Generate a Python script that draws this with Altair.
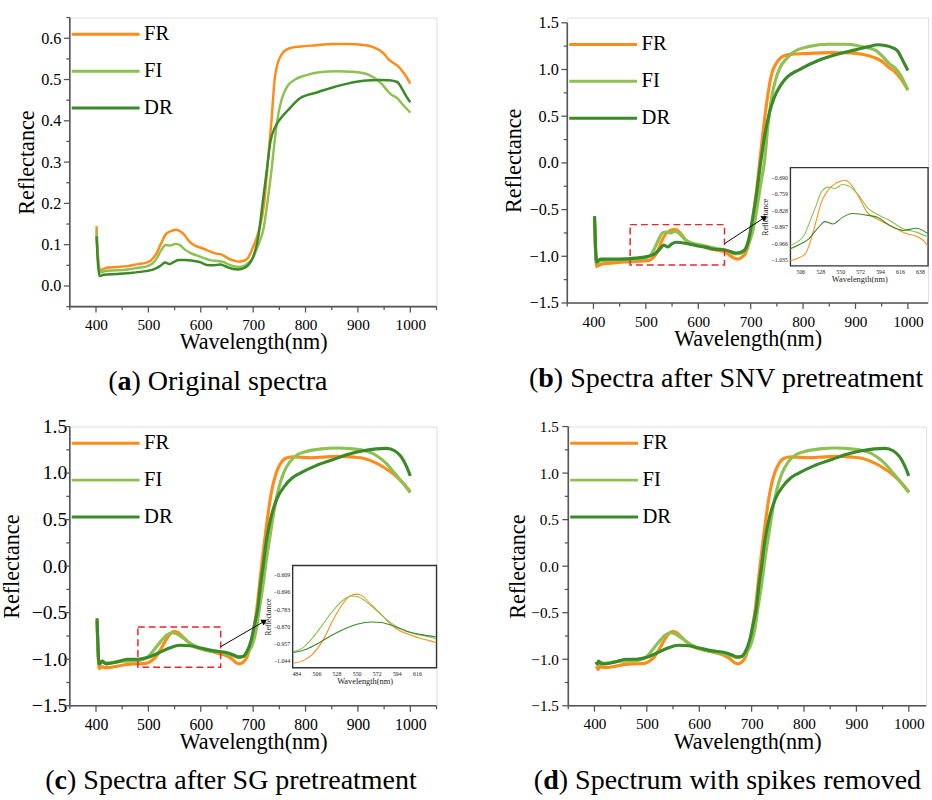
import math
import altair as alt
import pandas as pd

SERIF = "Liberation Serif"
SERIES = ["FR", "FI", "DR"]
COLORS = ["#FF8C1A", "#8DC152", "#3B8A2A"]
AXC = "#555555"

# ---------------- (a) original spectra ----------------
FR_A = [(401,0.145),(404,0.07),(408,0.038),(420,0.044),(440,0.046),(460,0.048),(480,0.053),(495,0.056),(505,0.062),(515,0.078),(525,0.105),(533,0.125),(542,0.132),(552,0.136),(560,0.133),(568,0.125),(578,0.108),(590,0.097),(602,0.092),(615,0.085),(627,0.079),(640,0.076),(652,0.067),(662,0.062),(672,0.059),(682,0.061),(690,0.068),(700,0.095),(710,0.13),(721,0.20),(728,0.30),(735,0.40),(741,0.50),(746,0.535),(751,0.553),(758,0.567),(770,0.576),(790,0.580),(820,0.583),(850,0.586),(880,0.586),(915,0.583),(930,0.578),(940,0.572),(950,0.562),(959,0.548),(968,0.540),(977,0.532),(988,0.515),(1000,0.49)]
FI_A = [(401,0.135),(404,0.06),(408,0.033),(420,0.037),(440,0.038),(460,0.040),(480,0.044),(495,0.047),(505,0.052),(515,0.065),(525,0.088),(533,0.099),(542,0.098),(552,0.102),(560,0.099),(570,0.088),(580,0.080),(592,0.074),(605,0.068),(620,0.062),(635,0.060),(645,0.057),(655,0.051),(665,0.047),(672,0.046),(682,0.048),(690,0.055),(700,0.07),(710,0.10),(720,0.14),(727,0.20),(735,0.28),(741,0.35),(746,0.40),(752,0.44),(758,0.465),(766,0.485),(780,0.50),(800,0.51),(830,0.518),(860,0.52),(890,0.519),(915,0.514),(930,0.505),(945,0.49),(955,0.475),(962,0.465),(975,0.455),(985,0.44),(1000,0.42)]
DR_A = [(401,0.12),(404,0.05),(407,0.024),(415,0.027),(440,0.029),(470,0.032),(495,0.036),(510,0.040),(522,0.048),(532,0.057),(540,0.053),(548,0.058),(558,0.063),(570,0.063),(585,0.061),(600,0.057),(612,0.051),(625,0.050),(637,0.052),(650,0.046),(662,0.041),(672,0.040),(682,0.043),(690,0.050),(700,0.07),(710,0.12),(718,0.20),(726,0.28),(733,0.35),(742,0.385),(752,0.405),(766,0.425),(790,0.455),(820,0.468),(850,0.48),(880,0.49),(910,0.497),(940,0.499),(960,0.498),(975,0.494),(983,0.48),(992,0.46),(1000,0.445)]

# ---------------- (b) SNV ----------------
FR_B = [(402,-0.62),(404,-0.95),(406,-1.11),(412,-1.09),(420,-1.08),(440,-1.07),(460,-1.06),(480,-1.055),(495,-1.05),(505,-1.045),(515,-1.01),(522,-0.95),(530,-0.84),(538,-0.76),(546,-0.725),(553,-0.71),(560,-0.72),(567,-0.76),(575,-0.82),(585,-0.86),(598,-0.88),(612,-0.90),(626,-0.925),(640,-0.94),(650,-0.95),(660,-0.99),(668,-1.02),(675,-1.03),(683,-1.01),(690,-0.97),(697,-0.85),(704,-0.6),(711,-0.3),(717,0.0),(724,0.35),(732,0.7),(740,0.95),(748,1.06),(756,1.12),(766,1.15),(780,1.165),(800,1.17),(850,1.18),(890,1.178),(915,1.16),(935,1.13),(950,1.09),(962,1.03),(972,0.99),(985,0.91),(1000,0.78)]
FI_B = [(402,-0.6),(404,-0.95),(406,-1.08),(412,-1.05),(420,-1.045),(450,-1.04),(480,-1.03),(500,-1.015),(510,-0.98),(518,-0.90),(526,-0.80),(533,-0.745),(540,-0.74),(547,-0.75),(555,-0.735),(561,-0.745),(568,-0.78),(578,-0.835),(592,-0.865),(610,-0.885),(628,-0.91),(645,-0.925),(658,-0.95),(670,-0.975),(680,-0.97),(690,-0.93),(698,-0.84),(706,-0.68),(713,-0.45),(720,-0.2),(726,0.0),(733,0.4),(740,0.7),(748,0.9),(756,1.02),(769,1.12),(780,1.18),(810,1.245),(850,1.27),(880,1.27),(905,1.255),(925,1.23),(940,1.2),(955,1.12),(965,1.06),(975,1.02),(988,0.92),(1000,0.78)]
DR_B = [(402,-0.57),(404,-0.9),(406,-1.06),(410,-1.04),(415,-1.03),(450,-1.03),(480,-1.02),(505,-1.0),(518,-0.97),(527,-0.92),(534,-0.88),(542,-0.9),(550,-0.865),(558,-0.85),(575,-0.86),(595,-0.885),(615,-0.905),(632,-0.925),(650,-0.93),(662,-0.95),(672,-0.965),(682,-0.955),(690,-0.92),(697,-0.8),(705,-0.55),(712,-0.3),(719,0.0),(727,0.3),(735,0.52),(745,0.7),(757,0.83),(770,0.92),(793,1.0),(830,1.1),(870,1.17),(900,1.21),(925,1.245),(942,1.265),(958,1.255),(970,1.235),(980,1.2),(990,1.1),(1000,0.99)]
# inset of (b)
FR_BI = [(495,-1.040),(503,-1.030),(511.7,-1.010),(517,-0.96),(522.5,-0.886),(529.7,-0.789),(537,-0.741),(546,-0.713),(555,-0.702),(562,-0.72),(571,-0.776),(580,-0.838),(591,-0.865),(602,-0.886),(613,-0.907),(623.6,-0.927),(634,-0.937),(641.7,-0.955),(647,-0.98)]
FI_BI = [(495,-0.975),(510,-0.934),(516,-0.88),(522.5,-0.817),(529.7,-0.748),(537,-0.731),(544,-0.737),(552.5,-0.720),(560,-0.727),(571,-0.769),(580,-0.817),(594,-0.851),(605,-0.872),(620,-0.907),(634,-0.920),(647,-0.941)]
DR_BI = [(495,-0.990),(505,-0.972),(515.3,-0.948),(526,-0.900),(533,-0.876),(542,-0.886),(552.5,-0.858),(563.5,-0.842),(576,-0.847),(591,-0.858),(605,-0.893),(620,-0.913),(634,-0.904),(647,-0.927)]

# ---------------- (c) SG ----------------
FR_C = [(402,-0.6),(404,-0.95),(406,-1.10),(409,-1.09),(412,-1.08),(416,-1.09),(422,-1.09),(440,-1.075),(460,-1.055),(480,-1.05),(495,-1.045),(505,-1.02),(515,-0.97),(525,-0.88),(535,-0.78),(543,-0.72),(550,-0.70),(557,-0.715),(566,-0.76),(577,-0.82),(590,-0.87),(605,-0.895),(620,-0.915),(635,-0.94),(648,-0.96),(660,-1.0),(668,-1.04),(673,-1.05),(680,-1.035),(688,-0.98),(695,-0.85),(701,-0.68),(706,-0.5),(716,0.0),(727,0.5),(735,0.8),(744,1.0),(752,1.1),(762,1.16),(775,1.175),(790,1.17),(810,1.165),(840,1.175),(870,1.18),(895,1.17),(910,1.16),(930,1.12),(950,1.06),(970,0.98),(985,0.9),(1000,0.8)]
FI_C = [(402,-0.58),(404,-0.92),(406,-1.06),(409,-1.03),(412,-1.02),(418,-1.04),(430,-1.035),(450,-1.02),(470,-1.02),(485,-1.01),(500,-0.97),(512,-0.89),(525,-0.80),(535,-0.74),(545,-0.715),(551,-0.72),(562,-0.755),(573,-0.80),(588,-0.855),(602,-0.89),(616,-0.91),(630,-0.925),(645,-0.94),(660,-0.96),(672,-0.98),(682,-0.97),(690,-0.93),(700,-0.82),(706,-0.68),(712,-0.45),(719,-0.2),(726,0.1),(733,0.35),(740,0.6),(748,0.82),(758,1.0),(770,1.12),(785,1.2),(800,1.23),(830,1.26),(860,1.27),(890,1.26),(910,1.245),(925,1.22),(940,1.17),(955,1.1),(970,1.0),(985,0.9),(1000,0.79)]
DR_C = [(402,-0.56),(404,-0.9),(406,-1.05),(409,-1.04),(412,-1.02),(416,-1.04),(420,-1.05),(440,-1.03),(460,-1.0),(480,-1.0),(500,-0.98),(520,-0.93),(540,-0.88),(560,-0.85),(580,-0.855),(600,-0.88),(625,-0.91),(650,-0.93),(663,-0.955),(672,-0.975),(680,-0.97),(688,-0.92),(696,-0.8),(703,-0.62),(709,-0.45),(714,-0.2),(719,0.0),(726,0.3),(733,0.5),(745,0.72),(760,0.86),(775,0.95),(790,1.0),(820,1.08),(850,1.14),(880,1.2),(910,1.24),(935,1.26),(955,1.265),(970,1.24),(982,1.18),(992,1.08),(1000,0.97)]
# inset of (c)
FR_CI = [(480.7,-1.057),(491.4,-1.044),(502,-1.011),(512.8,-0.944),(523.5,-0.845),(534,-0.761),(543,-0.715),(550.2,-0.707),(557.3,-0.72),(566,-0.761),(577,-0.811),(587.6,-0.861),(598.3,-0.895),(609,-0.914),(619.6,-0.931),(630.3,-0.944),(637,-0.953)]
FI_CI = [(480.7,-0.999),(491.4,-0.978),(502,-0.928),(512.8,-0.861),(523.5,-0.795),(534,-0.742),(544.7,-0.717),(551.5,-0.72),(562.3,-0.753),(573,-0.795),(587.6,-0.853),(602,-0.891),(616,-0.911),(630.3,-0.924),(637,-0.933)]
DR_CI = [(480.7,-1.003),(495,-0.986),(509.2,-0.953),(523.5,-0.914),(537.8,-0.881),(551.5,-0.858),(566,-0.848),(577,-0.851),(591,-0.870),(605,-0.895),(619.6,-0.911),(637,-0.924)]

# ---------------- (d) spikes removed ----------------
FR_D = [(403,-1.10),(405,-1.09),(407,-1.11),(410,-1.08),(414,-1.085),(420,-1.09),(440,-1.075),(460,-1.055),(480,-1.05),(495,-1.045),(505,-1.02),(515,-0.97),(525,-0.88),(535,-0.78),(543,-0.72),(550,-0.70),(557,-0.715),(566,-0.76),(577,-0.82),(590,-0.87),(605,-0.895),(620,-0.915),(635,-0.935),(648,-0.96),(660,-1.0),(668,-1.04),(673,-1.05),(680,-1.035),(688,-0.98),(695,-0.85),(701,-0.68),(706,-0.5),(716,0.0),(727,0.5),(735,0.8),(744,1.0),(752,1.1),(762,1.16),(775,1.175),(790,1.17),(810,1.165),(840,1.175),(870,1.18),(895,1.17),(910,1.16),(930,1.12),(950,1.06),(970,0.98),(985,0.9),(1000,0.8)]
FI_D = [(403,-1.05),(405,-1.04),(407,-1.06),(410,-1.03),(414,-1.035),(420,-1.045),(430,-1.035),(450,-1.02),(470,-1.02),(485,-1.01),(500,-0.97),(512,-0.89),(525,-0.80),(535,-0.74),(545,-0.715),(551,-0.72),(562,-0.755),(573,-0.80),(588,-0.855),(602,-0.89),(616,-0.91),(630,-0.925),(645,-0.94),(660,-0.96),(672,-0.98),(682,-0.97),(690,-0.93),(700,-0.82),(706,-0.68),(712,-0.45),(719,-0.2),(726,0.1),(733,0.35),(740,0.6),(748,0.82),(758,1.0),(770,1.12),(785,1.2),(800,1.23),(830,1.26),(860,1.27),(890,1.26),(910,1.245),(925,1.22),(940,1.17),(955,1.1),(970,1.0),(985,0.9),(1000,0.79)]
DR_D = [(403,-1.03),(405,-1.05),(408,-1.02),(411,-1.04),(416,-1.05),(420,-1.05),(440,-1.03),(460,-1.0),(480,-1.0),(500,-0.98),(520,-0.93),(540,-0.88),(560,-0.85),(580,-0.855),(600,-0.88),(625,-0.91),(650,-0.93),(663,-0.955),(672,-0.975),(680,-0.97),(688,-0.92),(696,-0.8),(703,-0.62),(709,-0.45),(714,-0.2),(719,0.0),(726,0.3),(733,0.5),(745,0.72),(760,0.86),(775,0.95),(790,1.0),(820,1.08),(850,1.14),(880,1.2),(910,1.24),(935,1.26),(955,1.265),(970,1.24),(982,1.18),(992,1.08),(1000,0.97)]

# zoom boxes [x0, x1, y0, y1] and arrows [(x, y) start, (x, y) end]
BOX_B = [470, 650, -1.093, -0.661]
ARROW_B = [(650, -0.865), (725, -0.59)]
BOX_C = [480, 638, -1.087, -0.653]
ARROW_C = [(638, -0.865), (720, -0.597)]

X_MAJOR = [400, 500, 600, 700, 800, 900, 1000]
X_MINOR = [350, 450, 550, 650, 750, 850, 950, 1050]
YA_MAJOR = [0.0, 0.1, 0.2, 0.3, 0.4, 0.5, 0.6]
YA_MINOR = [-0.05, 0.05, 0.15, 0.25, 0.35, 0.45, 0.55, 0.65]
YS_MAJOR = [-1.5, -1.0, -0.5, 0.0, 0.5, 1.0, 1.5]
YS_MINOR = [-1.25, -0.75, -0.25, 0.25, 0.75, 1.25]

INSET_B_XTICKS = [506, 528, 550, 572, 594, 616, 638]
INSET_B_YTICKS = [-0.690, -0.759, -0.828, -0.897, -0.966, -1.035]
INSET_C_XTICKS = [484, 506, 528, 550, 572, 594, 616]
INSET_C_YTICKS = [-0.609, -0.696, -0.783, -0.870, -0.957, -1.044]

CAPTIONS = {"a": "Original spectra", "b": "Spectra after SNV pretreatment",
            "c": "Spectra after SG pretreatment", "d": "Spectrum with spikes removed"}


def to_df(d):
    rows = []
    for name in SERIES:
        for w, v in d[name]:
            rows.append({"series": name, "wl": w, "val": v})
    return pd.DataFrame(rows)


def color_enc(legend=None):
    kw = {}
    if legend is not None:
        kw["legend"] = legend
    return alt.Color("series:N", scale=alt.Scale(domain=SERIES, range=COLORS), **kw)


def panel(P):
    W, H = P["W"], P["H"]
    xdom, ydom = P["xdom"], P["ydom"]
    yax = P["yaxis_range"]
    xs = alt.Scale(domain=xdom, nice=False, zero=False)
    ys = alt.Scale(domain=ydom, nice=False, zero=False)
    xmaj = [v for v in X_MAJOR if xdom[0] <= v <= xdom[1]]
    xmin = [v for v in X_MINOR if xdom[0] <= v <= xdom[1]]
    xaxis = alt.Axis(orient="bottom", values=xmaj, format="d", title="Wavelength(nm)",
                     labelPadding=P["xlp"], titlePadding=P["xtp"], labelFontSize=P["xfs"], titleFontSize=22.5)
    yaxis = alt.Axis(orient="left", values=P["ymaj"], format=".1f", title="Reflectance",
                     labelPadding=P["ylp"], titlePadding=P["ytp"], labelFontSize=P["yfs"], titleFontSize=22.5)
    legend = alt.Legend(orient="none", legendX=0.5, legendY=P["legY"], title=None, symbolType="stroke",
                        symbolSize=4761, symbolStrokeWidth=3, clipHeight=22, rowPadding=15.5,
                        labelFont=SERIF, labelFontSize=21, labelOffset=3, labelColor="black", padding=0)
    lines = alt.Chart(to_df(P["data"])).mark_line(strokeWidth=P["sw"], interpolate="monotone").encode(
        x=alt.X("wl:Q", scale=xs, axis=xaxis),
        y=alt.Y("val:Q", scale=ys, axis=yaxis),
        color=color_enc(legend),
    )
    # axis lines and ticks drawn through the same scales
    dom_df = pd.DataFrame({"seg": ["x", "x", "y", "y"],
                           "wl": [xdom[0], xdom[1], xdom[0], xdom[0]],
                           "val": [yax[0], yax[0], yax[0], yax[1]]})
    domain = alt.Chart(dom_df).mark_line(color=AXC, strokeWidth=1.6).encode(
        x="wl:Q", y="val:Q", detail="seg:N", order="val:Q")
    xt_maj = alt.Chart(pd.DataFrame({"wl": xmaj})).mark_tick(orient="vertical", size=6, thickness=1.3,
                                                              color=AXC, opacity=1).encode(
        x="wl:Q", y=alt.value(H + 3))
    xt_min = alt.Chart(pd.DataFrame({"wl": xmin})).mark_tick(orient="vertical", size=3.5, thickness=1.3,
                                                              color=AXC, opacity=1).encode(
        x="wl:Q", y=alt.value(H + 1.75))
    yt_maj = alt.Chart(pd.DataFrame({"val": P["ymaj"]})).mark_tick(orient="horizontal", size=6, thickness=1.3,
                                                                   color=AXC, opacity=1).encode(
        y="val:Q", x=alt.value(-3))
    yt_min = alt.Chart(pd.DataFrame({"val": P["ymin"]})).mark_tick(orient="horizontal", size=3.5, thickness=1.3,
                                                                   color=AXC, opacity=1).encode(
        y="val:Q", x=alt.value(-1.75))
    layers = [lines, domain, xt_maj, xt_min, yt_maj, yt_min]
    if "box" in P:
        b = P["box"]
        bdf = pd.DataFrame({"wl": [b[0]], "wl2": [b[1]], "val": [b[2]], "val2": [b[3]]})
        layers.append(alt.Chart(bdf).mark_rect(fill=None, stroke="#E8262B", strokeDash=[7, 4], strokeWidth=1.5).encode(
            x="wl:Q", x2="wl2:Q", y="val:Q", y2="val2:Q"))
        (ax0, ay0), (ax1, ay1) = P["arrow"]
        adf = pd.DataFrame({"wl": [ax0, ax1], "val": [ay0, ay1]})
        layers.append(alt.Chart(adf).mark_line(color="black", strokeWidth=1).encode(x="wl:Q", y="val:Q"))
        kx = W / (xdom[1] - xdom[0])
        ky = H / (ydom[1] - ydom[0])
        ang = math.degrees(math.atan2((ax1 - ax0) * kx, (ay1 - ay0) * ky))
        hdf = pd.DataFrame({"wl": [ax1], "val": [ay1]})
        layers.append(alt.Chart(hdf).mark_point(shape="triangle", filled=True, size=45, color="black",
                                                 opacity=1, angle=ang).encode(x="wl:Q", y="val:Q"))
    one = pd.DataFrame({"k": [0]})
    # caption
    letter = P["letter"]
    cx, cy = P["capX"], H + 76
    fs = 28.5
    wpar = 0.333 * fs
    wlet = {"a": 0.5, "b": 0.556, "c": 0.444, "d": 0.556}[letter] * fs
    layers.append(alt.Chart(one).mark_text(text="(", align="left", baseline="middle", font=SERIF, fontSize=fs,
                                           color="black").encode(x=alt.value(cx), y=alt.value(cy)))
    layers.append(alt.Chart(one).mark_text(text=letter, align="left", baseline="middle", font=SERIF, fontSize=fs,
                                           fontWeight="bold", color="black").encode(x=alt.value(cx + wpar), y=alt.value(cy)))
    layers.append(alt.Chart(one).mark_text(text=") " + CAPTIONS[letter], align="left", baseline="middle", font=SERIF,
                                           fontSize=fs, color="black").encode(x=alt.value(cx + wpar + wlet), y=alt.value(cy)))
    main = alt.layer(*layers)
    if "inset" in P:
        I = P["inset"]
        ixs = alt.Scale(domain=I["xdom"], range=I["xr"], nice=False, zero=False)
        iys = alt.Scale(domain=I["ydom"], range=[I["yr"][1], I["yr"][0]], nice=False, zero=False)
        ixaxis = alt.Axis(orient="bottom", offset=-(H - I["yr"][1]), values=I["xt"], format="d",
                          title="Wavelength(nm)", titleFontSize=8.5,
                          labelFontSize=6, tickSize=2, labelPadding=1, titlePadding=0,
                          domain=False, labelColor="#222", titleColor="#222")
        iyaxis = alt.Axis(orient="left", offset=-I["xr"][0], values=I["yt"], format=".3f",
                          title="Reflectance", titleFontSize=8,
                          labelFontSize=6, tickSize=2, labelPadding=1, titlePadding=1,
                          domain=False, labelColor="#222", titleColor="#222")
        fdf = pd.DataFrame({"wl": [I["xdom"][0]], "wl2": [I["xdom"][1]], "val": [I["ydom"][0]], "val2": [I["ydom"][1]]})
        frame = alt.Chart(fdf).mark_rect(fill="white", stroke="#333", strokeWidth=1.4).encode(
            x=alt.X("wl:Q", scale=ixs, axis=ixaxis), x2="wl2:Q",
            y=alt.Y("val:Q", scale=iys, axis=iyaxis), y2="val2:Q")
        ilines = alt.Chart(to_df(I["data"])).mark_line(strokeWidth=1.1, interpolate="monotone").encode(
            x=alt.X("wl:Q", scale=ixs), y=alt.Y("val:Q", scale=iys), color=color_enc())
        ch = alt.layer(main, alt.layer(frame, ilines)).resolve_scale(x="independent", y="independent")
    else:
        ch = main
    return ch.properties(width=W, height=H)


PA = dict(W=373, H=294, xdom=[350, 1050], ydom=[-0.05, 0.65], yaxis_range=[-0.05, 0.65],
          ymaj=YA_MAJOR, ymin=YA_MINOR, yfs=16.5, xfs=15.5,
          ylp=3, ytp=2, xlp=5.5, xtp=-2, sw=2.5, legY=6, letter="a", capX=39,
          data={"FR": FR_A, "FI": FI_A, "DR": DR_A})
PB = dict(W=367, H=290.3, xdom=[350, 1038.5], ydom=[-1.5, 1.556], yaxis_range=[-1.5, 1.5],
          ymaj=YS_MAJOR, ymin=YS_MINOR, yfs=16.5, xfs=15.5,
          ylp=3, ytp=4, xlp=5.5, xtp=-2, sw=3.2, legY=16.3, letter="b", capX=-39,
          data={"FR": FR_B, "FI": FI_B, "DR": DR_B}, box=BOX_B, arrow=ARROW_B,
          inset=dict(xdom=[495, 647], ydom=[-1.062, -0.649], xr=[227, 367], yr=[152.6, 252.6],
                     xt=INSET_B_XTICKS, yt=INSET_B_YTICKS, data={"FR": FR_BI, "FI": FI_BI, "DR": DR_BI}))
PC = dict(W=373, H=284, xdom=[350, 1050], ydom=[-1.5, 1.5], yaxis_range=[-1.5, 1.5],
          ymaj=YS_MAJOR, ymin=YS_MINOR, yfs=20, xfs=16,
          ylp=-3, ytp=8.1, xlp=5.5, xtp=-2, sw=3.2, legY=6, letter="c", capX=-25,
          data={"FR": FR_C, "FI": FI_C, "DR": DR_C}, box=BOX_C, arrow=ARROW_C,
          inset=dict(xdom=[480, 637.4], ydom=[-1.08, -0.562], xr=[226.7, 373], yr=[141.3, 245.3],
                     xt=INSET_C_XTICKS, yt=INSET_C_YTICKS, data={"FR": FR_CI, "FI": FI_CI, "DR": DR_CI}))
PD = dict(W=364, H=284, xdom=[350, 1033], ydom=[-1.5, 1.5], yaxis_range=[-1.5, 1.5],
          ymaj=YS_MAJOR, ymin=YS_MINOR, yfs=15.5, xfs=15.5,
          ylp=4, ytp=1.5, xlp=5.5, xtp=-2, sw=3.2, legY=6, letter="d", capX=-35,
          data={"FR": FR_D, "FI": FI_D, "DR": DR_D})

top = alt.hconcat(panel(PA), panel(PB), spacing=62).resolve_scale(color="independent")
bottom = alt.hconcat(panel(PC), panel(PD), spacing=66).resolve_scale(color="independent")
chart = alt.vconcat(top, bottom, spacing=20).resolve_scale(color="independent").properties(
    padding={"left": 0, "top": 7, "right": 0, "bottom": 0}
).configure_view(stroke=None).configure(font=SERIF, background="white").configure_axis(
    grid=False, domain=False, ticks=True, tickOpacity=0, tickSize=6,
    labelFont=SERIF, titleFont=SERIF, titleFontWeight="normal", labelColor="black", titleColor="black",
    labelFlush=False, labelOverlap=False
)

chart.save("out.html", embed_options={"renderer": "svg", "actions": False})
